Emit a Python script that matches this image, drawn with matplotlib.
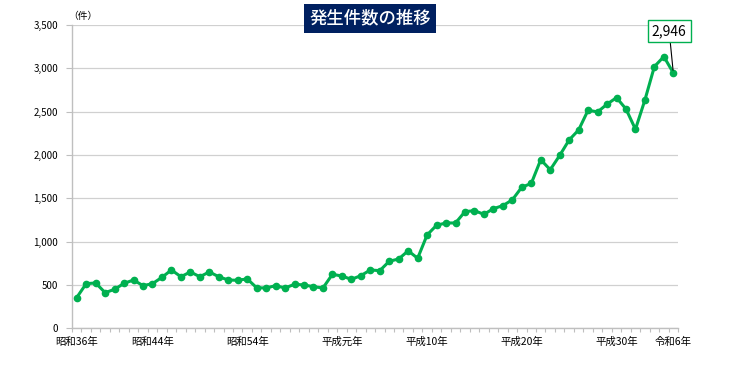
import matplotlib
matplotlib.use('Agg')
import matplotlib.pyplot as plt
from matplotlib.ticker import FuncFormatter

plt.rcParams['font.family'] = ['Noto Sans CJK JP', 'DejaVu Sans']

# 昭和36年 (1961) - 令和6年 (2024)
years = list(range(1961, 2025))
counts = [355, 515, 523, 411, 450, 519, 557, 492, 515, 588,
          673, 595, 650, 595, 650, 595, 557, 554, 570, 468,
          465, 492, 465, 508, 500, 480, 465, 623, 603, 565,
          607, 673, 665, 773, 800, 894, 808, 1077, 1189, 1215,
          1215, 1346, 1357, 1315, 1380, 1415, 1482, 1628, 1671, 1945,
          1829, 1994, 2173, 2288, 2516, 2496, 2585, 2661, 2530, 2296,
          2634, 3019, 3134, 2946]
label_years = [1961, 1969, 1979, 1989, 1998, 2008, 2018, 2024]
label_texts = ['昭和36年', '昭和44年', '昭和54年', '平成元年',
               '平成10年', '平成20年', '平成30年', '令和6年']

green = '#00B050'
grey = '#BFBFBF'

fig = plt.figure(figsize=(7.4, 3.66), dpi=100)
ax = fig.add_axes([0.0973, 0.103, 0.819, 0.829])

x = list(range(len(years)))
ax.plot(x, counts, color=green, lw=2.2, marker='o', ms=4.5, zorder=3)

ax.set_xlim(-0.5, len(years) - 0.5)
ax.set_ylim(0, 3500)
ax.set_yticks(range(0, 3501, 500))
ax.yaxis.set_major_formatter(FuncFormatter(lambda v, p: f'{int(v):,}'))
ax.grid(axis='y', color='#D0D0D0', lw=0.9)
ax.set_axisbelow(True)

# tick marks between categories, labels on selected years
ax.set_xticks([i - 0.5 for i in range(len(years) + 1)])
ax.set_xticklabels([])
ax.set_xticks([years.index(y) for y in label_years], minor=True)
ax.set_xticklabels(label_texts, minor=True)
ax.tick_params(axis='x', which='major', length=3, color=grey, width=0.8)
ax.tick_params(axis='x', which='minor', length=0, pad=6, labelsize=7.5)
ax.tick_params(axis='y', length=4, color=grey, width=0.8, labelsize=7, pad=6)

for s in ['top', 'right']:
    ax.spines[s].set_visible(False)
for s in ['left', 'bottom']:
    ax.spines[s].set_color(grey)
    ax.spines[s].set_linewidth(1.0)

fig.text(0.092, 0.955, '（件）', fontsize=7, ha='left', va='center')

fig.text(0.5, 0.949, '発生件数の推移', fontsize=12.5, fontweight='medium',
         color='white', ha='center', va='center',
         bbox=dict(boxstyle='square,pad=0.3', fc='#002060', ec='none'))

ax.annotate(f'{counts[-1]:,}', xy=(x[-1], counts[-1]), xytext=(-3, 30),
            textcoords='offset points', ha='center', va='center', fontsize=10,
            bbox=dict(boxstyle='square,pad=0.3', fc='white', ec=green, lw=1),
            arrowprops=dict(arrowstyle='-', color='black', lw=0.8,
                            shrinkA=0, shrinkB=2))

fig.savefig('out.png', dpi=100)
